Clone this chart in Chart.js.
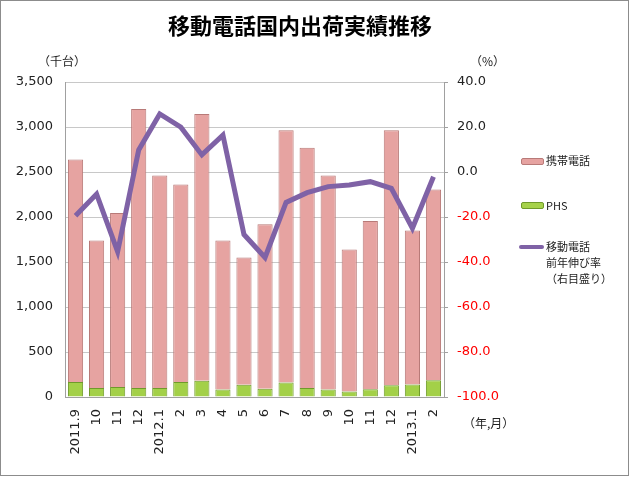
<!DOCTYPE html>
<html lang="ja">
<head>
<meta charset="UTF-8">
<title>移動電話国内出荷実績推移</title>
<script src="https://cdn.jsdelivr.net/npm/chart.js"></script>
<style>
  html, body { margin: 0; padding: 0; background: #fff; }
  #wrap { position: relative; width: 630px; height: 477px; font-family: "Noto Sans CJK JP", "Noto Sans", sans-serif; }
  #frame { position: absolute; left: 0; top: 0; width: 627px; height: 474px; border: 1px solid #8c8c8c; box-sizing: content-box; pointer-events: none; }
  .txt { position: absolute; color: #222; white-space: nowrap; }
  .sw { position: absolute; height: 5px; border-radius: 2px; }
</style>
</head>
<body>
<div id="wrap">
  <canvas id="c" width="630" height="477"></canvas>
  <div id="frame"></div>
  <div class="txt" style="left:0;width:600px;top:8px;text-align:center;font-size:22px;font-weight:bold;color:#000">移動電話国内出荷実績推移</div>
  <div class="txt" style="left:38px;top:52px;font-size:12px">（千台）</div>
  <div class="txt" style="left:470px;top:52px;font-size:12px">（%）</div>
  <div class="txt" style="left:463px;top:414px;font-size:12px">（年,月）</div>

  <div class="sw" style="left:521px;top:158px;width:21px;background:#e6a3a1;border:1px solid #b87a78"></div>
  <div class="txt" style="left:546px;top:152px;font-size:11px">携帯電話</div>
  <div class="sw" style="left:521px;top:202px;width:21px;background:#a6d24a;border:1px solid #6f9a2a"></div>
  <div class="txt" style="left:546px;top:197px;font-size:11px">PHS</div>
  <div class="sw" style="left:519px;top:245px;width:25px;height:4px;background:#7f62a6"></div>
  <div class="txt" style="left:546px;top:238px;font-size:11px;line-height:16px">移動電話<br>前年伸び率<br>（右目盛り）</div>
</div>
<script>
// 月ラベル
const labels = ['2011.9', '10', '11', '12', '2012.1', '2', '3', '4', '5', '6', '7', '8', '9', '10', '11', '12', '2013.1', '2'];
// 合計（千台）の読み取り値
const totals = [2640, 1740, 2045, 3200, 2460, 2360, 3145, 1740, 1550, 1920, 2965, 2770, 2460, 1640, 1955, 2965, 1850, 2305];
// PHS（千台）
const phs = [167, 100, 110, 100, 100, 167, 180, 82, 137, 93, 160, 100, 82, 60, 86, 130, 140, 185];
// 携帯電話 = 合計 - PHS
const mobile = totals.map((t, i) => t - phs[i]);
// 移動電話 前年伸び率（%）
const growth = [-19.4, -9.8, -35.4, 9.8, 25.8, 19.9, 7.6, 16.4, -27.8, -38.0, -13.5, -9.2, -6.5, -5.8, -4.3, -7.3, -25.0, -2.1];

const ctx = document.getElementById('c').getContext('2d');

// 棒に横方向のグラデーションを付ける
function barGrad(c1, c2) {
  return (context) => {
    const { chart } = context;
    const area = chart.chartArea;
    if (!area) return c1;
    const el = context.element;
    if (!el || el.width == null) return c1;
    const g = chart.ctx.createLinearGradient(el.x - el.width / 2, 0, el.x + el.width / 2, 0);
    g.addColorStop(0, c2);
    g.addColorStop(0.25, c1);
    g.addColorStop(0.75, c1);
    g.addColorStop(1, c2);
    return g;
  };
}

new Chart(ctx, {
  data: {
    labels: labels,
    datasets: [
      {
        type: 'line',
        label: '移動電話前年伸び率',
        data: growth,
        yAxisID: 'y2',
        borderColor: '#7f62a6',
        borderWidth: 5,
        pointRadius: 0,
        tension: 0,
        order: 0
      },
      {
        type: 'bar',
        label: 'PHS',
        data: phs,
        yAxisID: 'y',
        backgroundColor: barGrad('#a3d048', '#78a42c'),
        borderColor: '#6f9a2a',
        borderWidth: 1,
        categoryPercentage: 0.72,
        barPercentage: 1,
        stack: 's',
        order: 1
      },
      {
        type: 'bar',
        label: '携帯電話',
        data: mobile,
        yAxisID: 'y',
        backgroundColor: barGrad('#e6a3a1', '#c98583'),
        borderColor: '#b87a78',
        borderWidth: 1,
        categoryPercentage: 0.72,
        barPercentage: 1,
        stack: 's',
        order: 1
      }
    ]
  },
  options: {
    responsive: false,
    animation: false,
    devicePixelRatio: 1,
    layout: { padding: { top: 82, right: 130, bottom: 0, left: 0 } },
    plugins: {
      legend: { display: false },
      tooltip: { enabled: false }
    },
    scales: {
      x: {
        stacked: true,
        grid: { display: false },
        border: { color: '#a0a0a0' },
        ticks: {
          color: '#222',
          font: { size: 13, family: 'Verdana, "DejaVu Sans", sans-serif' },
          minRotation: 90,
          maxRotation: 90,
          padding: 4
        },
        afterFit: (s) => { s.height = 80; }
      },
      y: {
        stacked: true,
        position: 'left',
        min: 0,
        max: 3500,
        border: { color: '#a0a0a0' },
        grid: { color: '#c8c8c8', drawTicks: false },
        ticks: {
          stepSize: 500,
          padding: 12,
          color: '#222',
          font: { size: 13, family: 'Verdana, "DejaVu Sans", sans-serif' },
          callback: (v) => v.toLocaleString('en-US')
        },
        afterFit: (s) => { s.width = 65; }
      },
      y2: {
        position: 'right',
        min: -100,
        max: 40,
        border: { color: '#a0a0a0' },
        grid: { drawOnChartArea: false, tickLength: 4, color: '#a0a0a0' },
        ticks: {
          stepSize: 20,
          padding: 9,
          font: { size: 13, family: 'Verdana, "DejaVu Sans", sans-serif' },
          color: (c) => (c.tick && c.tick.value < 0 ? '#ff0000' : '#222'),
          callback: (v) => v.toFixed(1)
        },
        afterFit: (s) => { s.width = 56; }
      }
    }
  }
});
</script>
</body>
</html>
